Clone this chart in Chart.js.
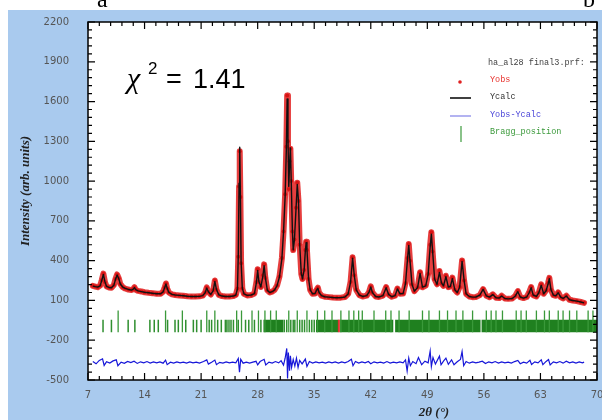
<!DOCTYPE html>
<html>
<head>
<meta charset="utf-8">
<script src="https://cdn.jsdelivr.net/npm/chart.js"></script>
<style>
  body { margin: 0; background: #fff; width: 602px; height: 420px; overflow: hidden; position: relative; }
  #bg { position: absolute; left: 8px; top: 10px; width: 594px; height: 410px; background: #a9caee; }
  #chart { position: absolute; left: 0; top: 0; }
</style>
</head>
<body>
<div id="bg"></div>
<canvas id="chart" width="602" height="420"></canvas>
<script>
// 2theta grid of the profile and the observed / calculated intensities
const tth = [7.6,7.9,8.2,8.5,8.7,8.9,9.1,9.3,9.6,9.9,10.2,10.4,10.6,10.8,11.0,11.3,11.6,12.0,12.4,12.6,12.75,12.9,13.2,13.6,14.0,
  14.5,15.0,15.5,16.0,16.3,16.5,16.65,16.8,17.0,17.4,17.8,18.3,18.8,19.3,19.8,20.3,20.8,21.2,21.5,21.7,21.9,22.2,22.5,22.7,22.9,
  23.2,23.6,24.0,24.5,25.0,25.3,25.5,25.6,25.7,25.78,25.86,25.95,26.1,26.3,26.7,27.2,27.6,27.85,28.0,28.15,28.4,28.65,28.8,28.95,
  29.2,29.5,29.8,30.1,30.4,30.7,31.0,31.2,31.4,31.55,31.65,31.75,31.85,31.95,32.05,32.15,32.3,32.4,32.55,32.75,32.9,33.05,33.2,
  33.4,33.55,33.75,33.9,34.0,34.1,34.3,34.5,34.8,35.1,35.3,35.45,35.6,35.9,36.3,36.8,37.3,37.8,38.3,38.8,39.2,39.5,39.75,39.95,
  40.2,40.6,41.0,41.5,41.8,42.0,42.2,42.6,43.0,43.5,43.9,44.2,44.6,45.0,45.3,45.6,46.0,46.3,46.55,46.7,46.85,47.1,47.4,47.8,48.1,
  48.4,48.8,49.1,49.35,49.5,49.65,49.9,50.2,50.5,50.75,51.0,51.3,51.6,51.85,52.1,52.4,52.7,53.0,53.3,53.55,53.8,54.2,54.6,55.0,
  55.5,55.9,56.3,56.7,57.1,57.5,57.9,58.2,58.6,59.0,59.5,59.9,60.2,60.5,60.9,61.3,61.6,61.85,62.1,62.5,62.8,63.1,63.4,63.7,63.95,
  64.1,64.3,64.6,64.9,65.2,65.5,65.8,66.2,66.6,67.0,67.5,68.0,68.4];

const yObs = [210,205,200,212,252,302,238,205,198,195,216,262,296,268,224,200,190,182,178,186,200,180,172,168,162,
  158,155,150,151,166,200,228,190,160,146,141,138,135,132,130,130,131,136,160,198,164,145,176,250,180,
  142,133,130,130,133,142,190,430,960,1225,880,380,190,150,138,141,152,240,335,240,202,290,372,270,
  176,160,166,180,212,280,420,620,900,1260,1645,1300,940,1150,1245,1000,620,480,560,800,988,850,520,
  300,262,330,480,542,480,262,180,150,152,180,196,160,136,128,125,122,120,121,126,150,240,425,290,
  180,140,130,136,166,206,160,130,126,136,201,145,128,136,190,150,152,232,420,525,400,220,170,200,312,
  200,212,300,520,615,470,260,222,322,230,210,286,200,206,272,180,160,202,402,250,150,130,125,126,
  140,186,135,125,146,120,118,136,115,112,115,136,171,125,118,126,160,201,140,130,160,221,150,176,232,
  270,180,140,135,161,125,115,136,105,100,95,88,82];

const yCalc = [208,204,201,210,250,296,240,206,198,196,214,258,292,266,224,201,191,183,178,185,197,181,172,167,162,
  158,154,151,151,165,198,224,191,161,146,141,138,135,132,130,130,131,136,158,194,165,145,174,244,182,
  142,133,130,130,133,141,188,440,985,1255,900,390,192,150,138,141,151,236,326,242,202,286,362,272,
  176,160,166,180,212,278,416,614,890,1240,1620,1330,960,1130,1250,1010,625,482,556,795,975,852,524,
  302,262,328,474,535,482,264,180,150,152,178,192,160,136,128,125,122,120,121,126,149,238,418,292,
  180,140,130,136,165,202,160,130,126,136,196,146,128,136,187,151,152,228,414,515,402,222,170,198,304,
  201,210,296,505,600,474,262,221,312,232,210,280,201,205,265,181,160,200,395,252,150,130,125,126,
  140,183,135,125,144,120,118,134,115,112,115,134,166,126,118,126,158,196,141,130,158,214,151,173,226,
  264,182,140,135,158,125,115,134,105,100,95,88,82];

// difference curve Yobs - Ycalc (offset as plotted)
const diffX = [7.6,8.0,8.4,8.8,9.0,9.3,9.7,10.1,10.5,10.7,11.1,11.5,11.9,12.3,12.7,13.1,13.5,13.9,14.3,14.7,15.1,15.5,15.9,16.3,
  16.6,16.8,17.2,17.6,18.0,18.4,18.8,19.2,19.6,20.0,20.4,20.8,21.3,21.7,21.9,22.3,22.7,22.9,23.3,23.7,24.1,24.5,24.9,25.3,25.6,
  25.75,25.9,26.2,26.6,27.0,27.4,27.8,28.0,28.3,28.8,29.0,29.4,29.8,30.2,30.6,30.9,31.2,31.4,31.6,31.7,31.8,31.95,32.05,32.2,
  32.4,32.6,32.8,33.0,33.2,33.5,33.9,34.1,34.4,34.8,35.2,35.6,36.0,36.4,36.8,37.2,37.6,38.0,38.4,38.8,39.2,39.6,39.8,40.1,40.5,
  40.9,41.3,41.7,42.0,42.4,42.8,43.2,43.6,44.0,44.4,44.8,45.2,45.6,46.0,46.3,46.5,46.7,46.9,47.2,47.6,47.9,48.3,48.7,49.1,49.35,
  49.5,49.7,50.0,50.5,50.7,51.0,51.3,51.6,52.0,52.3,52.7,53.1,53.3,53.5,53.8,54.2,54.6,55.0,55.4,55.8,56.2,56.6,57.0,57.4,57.8,
  58.2,58.6,59.0,59.4,59.8,60.2,60.5,60.9,61.3,61.7,61.9,62.3,62.7,63.1,63.3,63.7,64.0,64.2,64.6,65.0,65.4,65.8,66.2,66.6,67.0,
  67.4,67.8,68.2,68.4];
const diffY = [-360,-378,-352,-340,-390,-362,-372,-356,-348,-392,-365,-374,-360,-369,-358,-375,-363,-371,-361,-373,-364,-371,-363,-373,
  -350,-384,-366,-373,-363,-371,-365,-373,-363,-371,-365,-373,-361,-348,-380,-366,-350,-384,-367,-373,-363,-371,-365,-371,-338,
  -442,-344,-373,-365,-373,-365,-359,-386,-361,-344,-386,-365,-373,-361,-371,-354,-388,-336,-262,-488,-292,-430,-318,-405,
  -345,-395,-335,-405,-352,-378,-342,-398,-361,-373,-363,-371,-365,-373,-363,-371,-364,-373,-363,-371,-361,-343,-392,-361,-373,
  -363,-371,-361,-377,-363,-371,-365,-373,-361,-373,-365,-371,-363,-371,-348,-432,-335,-392,-361,-377,-330,-385,-358,-371,-282,
  -398,-330,-380,-320,-385,-358,-335,-382,-348,-385,-363,-345,-286,-392,-360,-373,-363,-371,-365,-358,-376,-363,-371,-361,-373,
  -363,-371,-365,-373,-361,-352,-377,-365,-373,-352,-383,-363,-371,-348,-384,-360,-346,-386,-363,-371,-361,-373,-358,-371,-363,
  -373,-364,-371,-365];

// Bragg reflection positions (2theta)
const braggShort = [8.86,9.9,11.97,12.8,14.66,15.2,15.7,16.85,17.77,18.18,19.1,20.04,20.45,21.0,22.0,22.3,23.05,23.5,24.0,24.2,
  24.45,24.7,25.0,25.6,26.5,26.9,27.6,28.4,31.3,31.6,32.1,32.4,32.6,33.2,33.5,33.8,34.4,34.7,35.0];
const braggTall = [10.73,16.6,18.68,21.7,22.7,25.4,26.0,27.3,28.1,28.9,29.6,30.3,31.85,32.9,34.1,35.4,36.3,37.2,38.3,39.3,39.9,
  40.5,40.95,42.4,43.85,44.5,45.5,46.75,48.4,49.2,50.5,51.5,52.55,53.4,54.6,56.3,56.9,57.5,58.3,60.0,60.6,61.25,62.5,63.5,64.1,
  65.2,65.8,66.6,67.5,68.9,69.5];
const braggDense = [28.9,29.2,29.5,29.8,30.1,30.4,30.7,31.0,35.4,35.7,36.0,36.3,36.6,36.9,37.2,37.5,37.8,38.35,38.6,38.9,39.2,
  39.5,39.8,40.1,40.4,40.7,41.0,41.3,41.6,41.9,42.2,42.5,42.8,43.1,43.4,43.7,44.0,44.3,44.6,45.2,45.5,45.8,46.1,46.4,46.7,47.0,
  47.3,47.6,47.9,48.2,48.5,48.8,49.1,49.4,49.7,50.0,50.3,50.6,50.9,51.2,51.5,51.8,52.1,52.4,52.7,53.0,53.3,53.6,53.9,54.2,54.5,
  54.8,55.1,55.4,55.9,56.2,56.5,56.8,57.1,57.4,57.7,58.0,58.3,58.6,58.9,59.2,59.5,59.8,60.1,60.4,60.7,61.0,61.3,61.6,61.9,62.2,
  62.5,62.8,63.1,63.4,63.7,64.0,64.3,64.6,64.9,65.2,65.5,65.8,66.1,66.4,66.7,67.0,67.3,67.6,67.9,68.2,68.5,68.8,69.1,69.4,69.7,69.9];
const braggRed = [38.05];

// tick ranges of the Bragg markers
const shortRange = [-140, -45];
const tallRange = [-140, 25];

const xTicks = [7, 14, 21, 28, 35, 42, 49, 56, 63, 70];
const yTicks = [-500, -200, 100, 400, 700, 1000, 1300, 1600, 1900, 2200];

function pts(xs, ys) { return xs.map((x, i) => ({ x: x, y: ys[i] })); }
function bars(xs, r) {
  const out = [];
  xs.forEach(x => { out.push({ x: x, y: r[0] }, { x: x, y: r[1] }, { x: x, y: null }); });
  return out;
}

const plotDeco = {
  id: 'plotDeco',
  beforeDraw(chart) {
    const a = chart.chartArea, c = chart.ctx;
    c.save();
    c.fillStyle = '#fff';
    c.fillRect(a.left, a.top, a.right - a.left, a.bottom - a.top);
    c.restore();
  },
  afterDatasetsDraw(chart) {
    const a = chart.chartArea, c = chart.ctx, sx = chart.scales.x, sy = chart.scales.y;
    c.save();
    c.strokeStyle = '#000';
    c.lineWidth = 1.5;
    c.strokeRect(a.left, a.top, a.right - a.left, a.bottom - a.top);
    c.lineWidth = 1.2;
    c.beginPath();
    for (let i = 0; i <= 45; i++) {
      const v = 7 + i * 1.4, px = sx.getPixelForValue(v), len = i % 5 === 0 ? 7 : 4;
      c.moveTo(px, a.bottom); c.lineTo(px, a.bottom - len);
      c.moveTo(px, a.top); c.lineTo(px, a.top + len);
    }
    for (let i = 0; i <= 45; i++) {
      const v = -500 + i * 60, py = sy.getPixelForValue(v), len = i % 5 === 0 ? 7 : 4;
      c.moveTo(a.left, py); c.lineTo(a.left + len, py);
      c.moveTo(a.right, py); c.lineTo(a.right - len, py);
    }
    c.stroke();
    c.restore();
  },
  afterDraw(chart) {
    const c = chart.ctx;
    c.save();
    // cut-off letters of the line above the figure
    c.fillStyle = '#000';
    c.font = '24px "Liberation Serif"';
    c.textBaseline = 'alphabetic';
    c.fillText('a', 97, 7);
    c.fillText('b', 583, 7);

    // chi^2 annotation
    c.font = 'italic 30px "Liberation Serif"';
    c.fillText('\u03C7', 127, 88);
    c.font = '17px "Liberation Sans"';
    c.fillText('2', 148, 74);
    c.font = '27px "Liberation Sans"';
    c.fillText('=', 166, 88);
    c.fillText('1.41', 193, 88);

    // legend
    c.font = '8.5px "Liberation Mono"';
    c.textBaseline = 'middle';
    c.fillStyle = '#444';
    c.fillText('ha_al28 final3.prf:', 488, 63);
    c.fillStyle = '#e8332e'; c.fillText('Yobs', 490, 80);
    c.fillStyle = '#333'; c.fillText('Ycalc', 490, 97);
    c.fillStyle = '#4a45d8'; c.fillText('Yobs-Ycalc', 490, 115);
    c.fillStyle = '#3c9a3c'; c.fillText('Bragg_position', 490, 132);
    c.fillStyle = '#e02020';
    c.beginPath(); c.arc(460, 82, 1.8, 0, Math.PI * 2); c.fill();
    c.lineWidth = 1.6;
    c.strokeStyle = '#111';
    c.beginPath(); c.moveTo(450, 98); c.lineTo(471, 98); c.stroke();
    c.strokeStyle = '#a0a0ee';
    c.beginPath(); c.moveTo(450, 116); c.lineTo(471, 116); c.stroke();
    c.strokeStyle = '#3c9a3c'; c.lineWidth = 1.2;
    c.beginPath(); c.moveTo(461, 126); c.lineTo(461, 142); c.stroke();

    // axis titles
    c.fillStyle = '#222';
    c.textAlign = 'center';
    c.font = 'bold italic 13px "Liberation Serif"';
    c.save();
    c.translate(26, 191);
    c.rotate(-Math.PI / 2);
    c.fillText('Intensity (arb. units)', 0, 0);
    c.restore();
    c.fillText('2\u03B8 (\u00B0)', 434, 413);
    c.restore();
  }
};

const tickFont = { family: '"DejaVu Sans"', size: 10 };

new Chart(document.getElementById('chart'), {
  type: 'line',
  data: {
    datasets: [
      { data: pts(tth, yCalc), borderColor: '#111', borderWidth: 1.4, borderJoinStyle: 'round', pointRadius: 0, order: 0 },
      { data: pts(tth, yObs), borderColor: 'rgba(226,28,28,0.85)', borderWidth: 6, borderJoinStyle: 'round',
        borderCapStyle: 'round', pointRadius: 2, pointBackgroundColor: '#d81414', pointBorderWidth: 0, order: 1 },
      { data: pts(diffX, diffY), borderColor: '#1616d8', borderWidth: 1.2, pointRadius: 0, order: 2 },
      { data: bars(braggShort, shortRange), borderColor: '#2f8f2f', borderWidth: 1.5, pointRadius: 0, spanGaps: false, order: 3 },
      { data: bars(braggTall, tallRange), borderColor: '#3a993a', borderWidth: 1.3, pointRadius: 0, spanGaps: false, order: 3 },
      { data: bars(braggDense, shortRange), borderColor: '#1f801f', borderWidth: 3, pointRadius: 0, spanGaps: false, order: 3 },
      { data: bars(braggRed, shortRange), borderColor: '#e03030', borderWidth: 2, pointRadius: 0, spanGaps: false, order: 2 }
    ]
  },
  options: {
    responsive: false,
    animation: false,
    layout: { padding: { top: 22, right: 5, left: 0, bottom: 0 } },
    plugins: { legend: { display: false }, tooltip: { enabled: false } },
    scales: {
      x: {
        type: 'linear', min: 7, max: 70,
        afterBuildTicks(s) { s.ticks = xTicks.map(v => ({ value: v })); },
        ticks: { padding: 9, color: '#555', font: tickFont, maxRotation: 0, callback: v => String(v) },
        grid: { display: false, drawTicks: false },
        border: { display: false },
        afterFit(s) { s.height = 40; s.paddingLeft = 0; s.paddingRight = 0; }
      },
      y: {
        type: 'linear', min: -500, max: 2200,
        afterBuildTicks(s) { s.ticks = yTicks.map(v => ({ value: v })); },
        ticks: { padding: 19, color: '#555', font: tickFont, callback: v => String(v) },
        grid: { display: false, drawTicks: false },
        border: { display: false },
        afterFit(s) { s.width = 88; s.paddingTop = 0; s.paddingBottom = 0; }
      }
    }
  },
  plugins: [plotDeco]
});
</script>
</body>
</html>
